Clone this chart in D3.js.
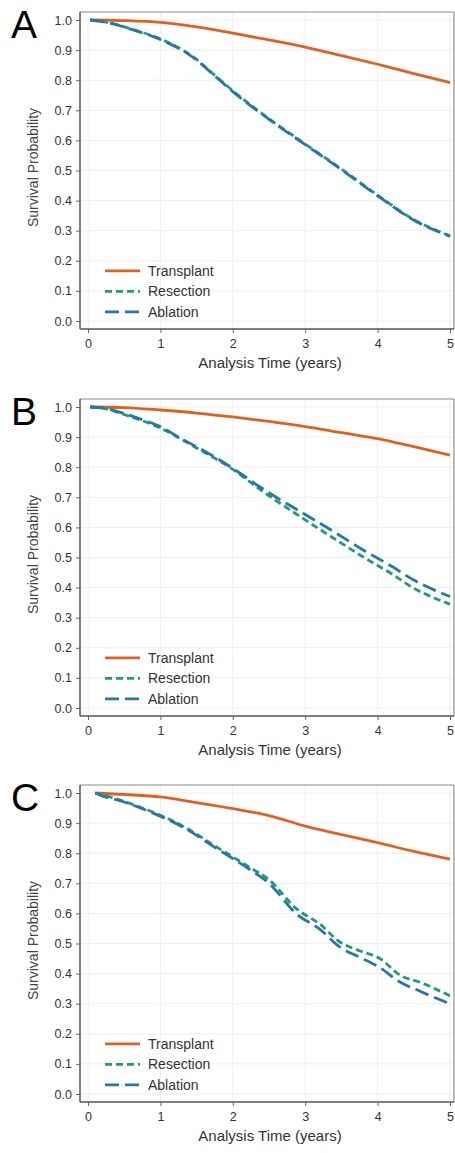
<!DOCTYPE html>
<html><head><meta charset="utf-8">
<script src="https://cdn.jsdelivr.net/npm/d3@7"></script>
<style>body{margin:0;background:#fff}svg{display:block;font-family:"Liberation Sans",Arial,Helvetica,sans-serif}</style>
</head><body>
<svg id="chart" width="455" height="1153"></svg>
<script>
const seriesNames = ["Transplant", "Resection", "Ablation"];
const panelLabels = ["A", "B", "C"];
const xTicks = [0, 1, 2, 3, 4, 5];
const yTicks = [0, 0.1, 0.2, 0.3, 0.4, 0.5, 0.6, 0.7, 0.8, 0.9, 1.0];
const xTitle = "Analysis Time (years)";
const yTitle = "Survival Probability";

// Panel A
const aTransplant = [[0.03,1.0],[0.5,0.998],[1,0.992],[1.5,0.977],[2,0.956],[2.5,0.934],[3,0.91],[3.5,0.882],[4,0.853],[4.5,0.822],[5,0.792]];
const aResection = [[0.03,1.0],[0.3,0.99],[0.6,0.97],[1,0.937],[1.45,0.878],[1.78,0.81],[2,0.765],[2.5,0.672],[3,0.588],[3.5,0.505],[4,0.418],[4.5,0.337],[5,0.283]];
const aAblation = [[0.03,1.0],[0.3,0.99],[0.6,0.969],[1,0.935],[1.45,0.876],[1.78,0.808],[2,0.762],[2.5,0.67],[3,0.586],[3.5,0.503],[4,0.416],[4.5,0.335],[5,0.281]];
// Panel B
const bTransplant = [[0.03,1.0],[0.5,0.998],[1,0.99],[1.5,0.98],[2,0.967],[2.5,0.952],[3,0.935],[3.5,0.915],[4,0.895],[4.5,0.868],[5,0.84]];
const bResection = [[0.03,1.0],[0.2,0.996],[0.5,0.975],[1,0.93],[1.5,0.864],[2,0.793],[2.4,0.722],[3,0.625],[3.4,0.563],[3.8,0.502],[4.2,0.445],[4.5,0.398],[4.8,0.364],[5,0.345]];
const bAblation = [[0.03,1.0],[0.2,0.997],[0.5,0.978],[0.76,0.957],[1,0.935],[1.27,0.897],[1.5,0.868],[1.82,0.824],[2.1,0.78],[2.37,0.735],[2.6,0.70],[3,0.643],[3.4,0.585],[3.8,0.525],[4.2,0.47],[4.5,0.425],[4.8,0.39],[5,0.37]];
// Panel C
const cTransplant = [[0.1,1.0],[0.5,0.995],[1,0.987],[1.5,0.968],[2,0.948],[2.5,0.925],[3,0.89],[3.5,0.862],[4,0.835],[4.5,0.806],[5,0.78]];
const cResection = [[0.1,1.0],[0.2,0.994],[0.5,0.972],[0.86,0.94],[1.31,0.89],[1.78,0.82],[2.24,0.752],[2.5,0.712],[2.88,0.615],[3.2,0.565],[3.48,0.505],[3.75,0.476],[4.03,0.45],[4.31,0.395],[4.6,0.37],[5,0.326]];
const cAblation = [[0.1,1.0],[0.17,0.993],[0.5,0.97],[0.86,0.937],[1.31,0.887],[1.78,0.815],[2.24,0.745],[2.5,0.70],[2.88,0.598],[3.2,0.548],[3.48,0.488],[3.75,0.455],[4.03,0.42],[4.31,0.372],[4.6,0.34],[5,0.30]];

const panelData = [
  [aTransplant, aResection, aAblation],
  [bTransplant, bResection, bAblation],
  [cTransplant, cResection, cAblation]
];

const colors = ["#e0611f", "#1f9a7c", "#2677a6"];
const dashes = [null, "7,4", "14,6"];
const panelTop = [20, 407, 793]; // pixel of y = 1.0

const svg = d3.select("#chart");

panelData.forEach((series, p) => {
  const y1 = panelTop[p];
  const y0 = y1 + 301;
  const x = d3.scaleLinear().domain([0, 5]).range([88, 450]);
  const y = d3.scaleLinear().domain([0, 1]).range([y0, y1]);
  const left = 80, right = 454, top = y1 - 8, bottom = y0 + 8;
  const g = svg.append("g");

  // gridlines
  g.append("g").selectAll("line").data(yTicks).join("line")
    .attr("x1", left).attr("x2", right).attr("y1", d => y(d)).attr("y2", d => y(d))
    .attr("stroke", "#eeeeee").attr("stroke-width", 1);
  g.append("g").selectAll("line").data(xTicks).join("line")
    .attr("y1", top).attr("y2", bottom).attr("x1", d => x(d)).attr("x2", d => x(d))
    .attr("stroke", "#eeeeee").attr("stroke-width", 1);

  // frame top/right
  g.append("line").attr("x1", left).attr("x2", right).attr("y1", top).attr("y2", top).attr("stroke", "#8a8a8a").attr("stroke-width", 1.2);
  g.append("line").attr("x1", right).attr("x2", right).attr("y1", top).attr("y2", bottom).attr("stroke", "#8a8a8a").attr("stroke-width", 1.2);

  // axes
  const ya = g.append("g").attr("transform", `translate(${left},0)`)
    .call(d3.axisLeft(y).tickValues(yTicks).tickFormat(d3.format(".1f")).tickSize(4).tickPadding(4));
  ya.select(".domain").attr("d", `M0,${top}V${bottom}`);
  const xa = g.append("g").attr("transform", `translate(0,${bottom})`)
    .call(d3.axisBottom(x).tickValues(xTicks).tickFormat(d3.format("d")).tickSize(4).tickPadding(6));
  xa.select(".domain").attr("d", `M${left},0H${right}`);
  [ya, xa].forEach(a => {
    a.selectAll(".domain").attr("stroke", "#555").attr("stroke-width", 1.5);
    a.selectAll(".tick line").attr("stroke", "#666").attr("stroke-width", 1);
    a.selectAll("text").attr("fill", "#333").style("font-size", "12.5px")
      .style("font-family", '"Liberation Sans",Arial,sans-serif');
  });

  // titles
  g.append("text").attr("x", 270).attr("y", bottom + 39).attr("text-anchor", "middle")
    .attr("fill", "#333").style("font-size", "15px").text(xTitle);
  g.append("text").attr("transform", `translate(38,${(y0 + y1) / 2 - 3}) rotate(-90)`)
    .attr("text-anchor", "middle").attr("fill", "#444").style("font-size", "14px").text(yTitle);

  // panel label
  g.append("text").attr("x", 11).attr("y", y1 + 18).attr("fill", "#000")
    .style("font-size", "39px").text(panelLabels[p]);

  // curves
  const line = d3.line().x(d => x(d[0])).y(d => y(d[1])).curve(d3.curveMonotoneX);
  series.forEach((data, i) => {
    g.append("path").datum(data).attr("d", line).attr("fill", "none")
      .attr("stroke", colors[i]).attr("stroke-width", 2.8)
      .attr("stroke-dasharray", dashes[i]).attr("stroke-linecap", "butt");
  });

  // legend
  const lg = g.append("g");
  seriesNames.forEach((name, i) => {
    const ly = y(0.2) + 10 + i * 20.5;
    lg.append("line").attr("x1", 105).attr("x2", 140).attr("y1", ly).attr("y2", ly)
      .attr("stroke", colors[i]).attr("stroke-width", 2.8).attr("stroke-dasharray", dashes[i]);
    lg.append("text").attr("x", 148).attr("y", ly + 5).attr("fill", "#333")
      .style("font-size", "14px").text(name);
  });
});
</script>
</body></html>
